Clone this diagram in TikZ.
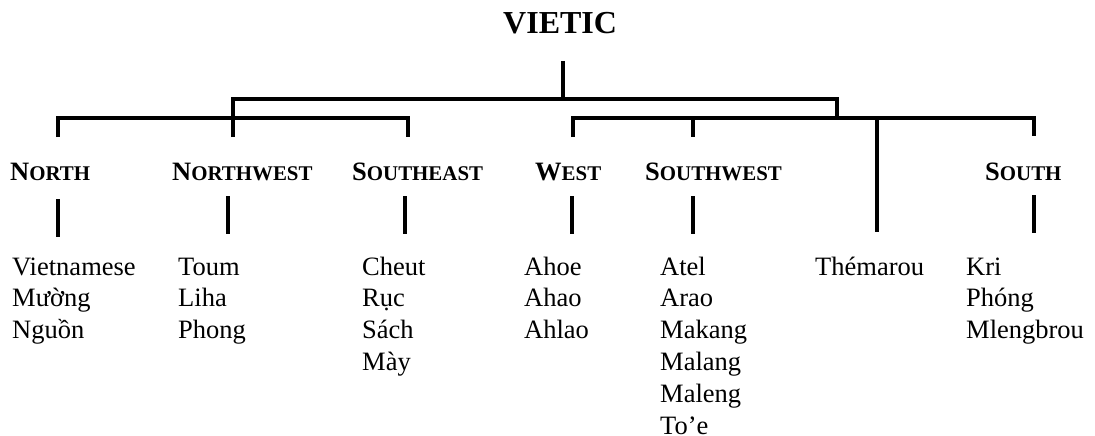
\documentclass[tikz,border=0pt]{standalone}
\usepackage{fontspec}
\setmainfont{Liberation Serif}
\newcommand{\scsmall}[1]{{\fontsize{20.9}{25}\selectfont #1}}
\newcommand{\collist}[1]{\begin{tabular}[t]{@{}l@{}}#1\end{tabular}}
\tikzset{
  titlebox/.style={anchor=base west, inner sep=0pt, font=\fontsize{32}{38}\selectfont\bfseries},
  hdr/.style={anchor=base west, inner sep=0pt, font=\fontsize{26.5}{31.8}\selectfont\bfseries},
  lst/.style={anchor=base west, inner sep=0pt, font=\fontsize{26.5}{31.8}\selectfont},
  bar/.style={line width=4pt, line join=miter, line cap=butt, black}
}
\begin{document}
\begin{tikzpicture}[x=1pt,y=-1pt]
\useasboundingbox (0,0) rectangle (1095,436);
% title
\node[titlebox] (root) at (503,34) {VIETIC};
% headers
\node[hdr] (hN)  at (10,180)  {N\scsmall{ORTH}};
\node[hdr] (hNW) at (172,180) {N\scsmall{ORTHWEST}};
\node[hdr] (hSE) at (352,180) {S\scsmall{OUTHEAST}};
\node[hdr] (hW)  at (535,180) {W\scsmall{EST}};
\node[hdr] (hSW) at (645,180) {S\scsmall{OUTHWEST}};
\node[hdr] (hS)  at (985,180) {S\scsmall{OUTH}};
% lists
\node[lst] (lN)  at (12,275)  {\collist{Vietnamese\\Mường\\Nguồn}};
\node[lst] (lNW) at (178,275) {\collist{Toum\\Liha\\Phong}};
\node[lst] (lSE) at (362,275) {\collist{Cheut\\Rục\\Sách\\Mày}};
\node[lst] (lW)  at (524,275) {\collist{Ahoe\\Ahao\\Ahlao}};
\node[lst] (lSW) at (660,275) {\collist{Atel\\Arao\\Makang\\Malang\\Maleng\\To’e}};
\node[lst] (lT)  at (815,275) {Thémarou};
\node[lst] (lS)  at (966,275) {\collist{Kri\\Phóng\\Mlengbrou}};
% junction coordinates
\coordinate (r0) at (563,61);
\coordinate (r1) at (563,99);
\coordinate (uL) at (233,99);
\coordinate (uR) at (837,99);
\coordinate (uRd) at (837,117.5);
\coordinate (nw0) at (233,137);
\coordinate (lb1) at (58,118);
\coordinate (lb2) at (408,118);
\coordinate (n0) at (58,137);
\coordinate (se0) at (408,137);
\coordinate (rb1) at (573,117.5);
\coordinate (rb2) at (1034,117.5);
\coordinate (w0) at (573,137);
\coordinate (sw1) at (693,117.5);
\coordinate (sw0) at (693,137);
\coordinate (t1) at (877,117.5);
\coordinate (t0) at (877,232);
\coordinate (s0) at (1034,136);
% lower stems
\coordinate (nA) at (58,199);   \coordinate (nB) at (58,237);
\coordinate (nwA) at (228,196); \coordinate (nwB) at (228,234);
\coordinate (seA) at (405,196); \coordinate (seB) at (405,234);
\coordinate (wA) at (572,196);  \coordinate (wB) at (572,234);
\coordinate (swA) at (693,196); \coordinate (swB) at (693,234);
\coordinate (sA) at (1034,195); \coordinate (sB) at (1034,233);
% tree lines
\draw[bar] (r0) -- (r1);
\draw[bar] (nw0) -- (uL) -- (uR) -- (uRd);
\draw[bar] (n0) -- (lb1) -- (lb2) -- (se0);
\draw[bar] (w0) -- (rb1) -- (rb2) -- (s0);
\draw[bar] (sw1) -- (sw0);
\draw[bar] (t1) -- (t0);
\draw[bar] (nA) -- (nB);
\draw[bar] (nwA) -- (nwB);
\draw[bar] (seA) -- (seB);
\draw[bar] (wA) -- (wB);
\draw[bar] (swA) -- (swB);
\draw[bar] (sA) -- (sB);
\end{tikzpicture}
\end{document}
